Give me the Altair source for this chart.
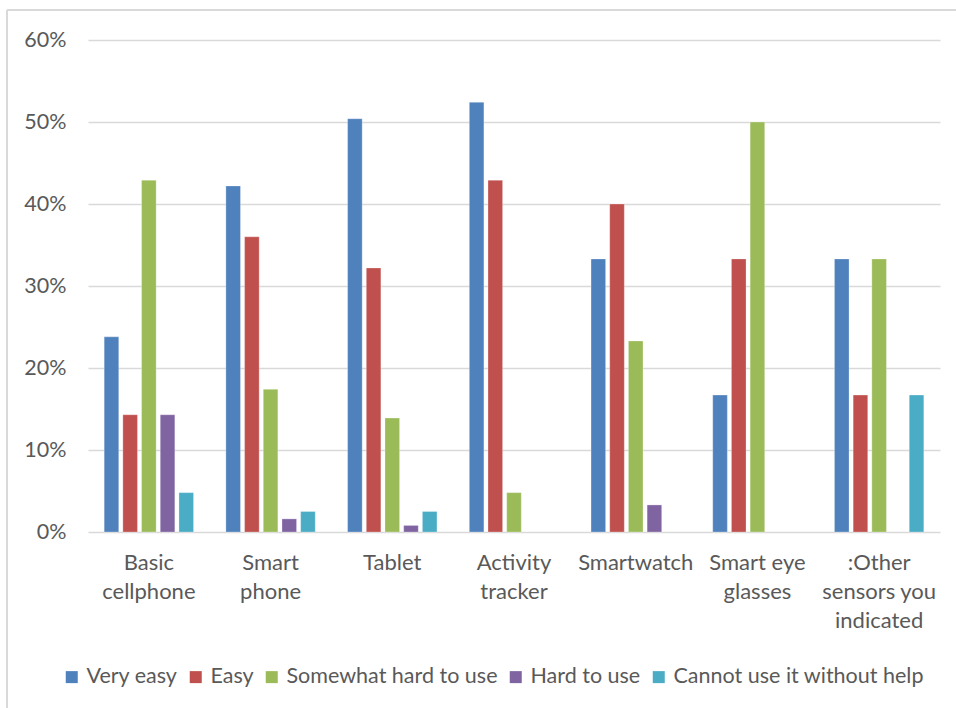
import altair as alt
import pandas as pd

# Devices and response categories
devices = [
    "Basic\ncellphone",
    "Smart\nphone",
    "Tablet",
    "Activity\ntracker",
    "Smartwatch",
    "Smart eye\nglasses",
    ":Other\nsensors you\nindicated",
]
responses = [
    "Very easy",
    "Easy",
    "Somewhat hard to use",
    "Hard to use",
    "Cannot use it without help",
]
colors = ["#4F81BD", "#C0504D", "#9BBB59", "#8064A2", "#4BACC6"]

# Share of respondents (%) per device, one list per response
very_easy = [23.8, 42.2, 50.4, 52.4, 33.3, 16.7, 33.3]
easy = [14.3, 36.0, 32.2, 42.9, 40.0, 33.3, 16.7]
somewhat_hard = [42.9, 17.4, 13.9, 4.8, 23.3, 50.0, 33.3]
hard = [14.3, 1.6, 0.8, 0.0, 3.3, 0.0, 0.0]
cannot = [4.8, 2.5, 2.5, 0.0, 0.0, 0.0, 16.7]

series = [very_easy, easy, somewhat_hard, hard, cannot]
rows = []
for resp, vals in zip(responses, series):
    for dev, v in zip(devices, vals):
        rows.append({"device": dev, "response": resp, "share": v / 100.0})
df = pd.DataFrame(rows)

FONT = "Lato"
GRAY = "#595959"
GRID = "#d9d9d9"

bars = (
    alt.Chart(df)
    .transform_filter("datum.share > 0")
    .mark_bar(stroke="white", strokeOpacity=0.35, strokeWidth=0.8)
    .encode(
        x=alt.X(
            "device:N",
            sort=devices,
            scale=alt.Scale(domain=devices, paddingInner=0.232, paddingOuter=0.116),
            axis=alt.Axis(
                title=None,
                labelAngle=0,
                labelExpr="split(datum.label, '\\n')",
                labelFont=FONT,
                labelFontSize=22,
                labelColor=GRAY,
                labelLineHeight=29,
                labelPadding=20,
                labelLimit=0,
                ticks=False,
                domain=False,
                labelBaseline="top",
            ),
        ),
        xOffset=alt.XOffset(
            "response:N",
            sort=responses,
            scale=alt.Scale(domain=responses, paddingInner=0.22, paddingOuter=0.11),
        ),
        y=alt.Y(
            "share:Q",
            scale=alt.Scale(domain=[0, 0.6], nice=False),
            axis=alt.Axis(
                title=None,
                format=".0%",
                values=[0, 0.1, 0.2, 0.3, 0.4, 0.5, 0.6],
                labelFont=FONT,
                labelFontSize=21.5,
                labelColor=GRAY,
                labelPadding=22,
                ticks=False,
                domain=False,
                grid=True,
                gridColor=GRID,
                gridWidth=1.5,
            ),
        ),
        color=alt.Color(
            "response:N",
            sort=responses,
            scale=alt.Scale(domain=responses, range=colors),
            legend=alt.Legend(
                title=None,
                orient="none",
                direction="horizontal",
                legendX=-27,
                legendY=626,
                symbolType="square",
                symbolSize=144,
                symbolStrokeWidth=0,
                labelFont=FONT,
                labelFontSize=21.5,
                labelColor=GRAY,
                labelOffset=4,
                labelLimit=0,
                columnPadding=7,
                columns=5,
            ),
        ),
    )
)

# Light frame around the whole chart (top and left edges)
frame_df = pd.DataFrame({"k": [0]})
frame_left = alt.Chart(frame_df).mark_rule(color=GRID, strokeWidth=2).encode(
    x=alt.value(-81), y=alt.value(-30), y2=alt.value(700)
)
frame_top = alt.Chart(frame_df).mark_rule(color=GRID, strokeWidth=2).encode(
    x=alt.value(-81), x2=alt.value(900), y=alt.value(-30)
)

chart = (
    alt.layer(bars, frame_left, frame_top)
    .properties(
        width=852,
        height=492,
        autosize=alt.AutoSizeParams(type="none"),
        padding={"left": 88, "top": 40, "right": 16, "bottom": 176},
        background="white",
    )
    .configure_view(stroke=None)
)

chart.save("out.html", embed_options={"renderer": "svg", "actions": False})
